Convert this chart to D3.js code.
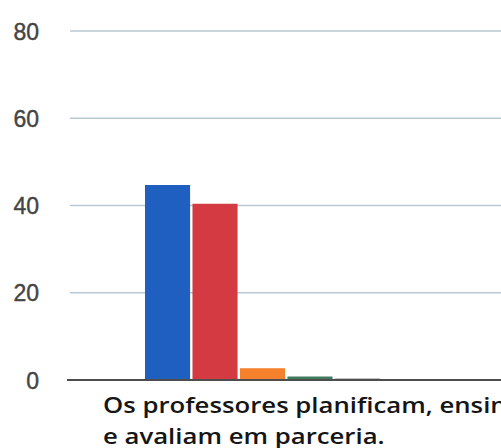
<!DOCTYPE html>
<html>
<head>
<meta charset="utf-8">
<script src="https://cdn.jsdelivr.net/npm/d3@7"></script>
<style>
  html, body { margin: 0; padding: 0; background: #fff; overflow: hidden; }
  svg { display: block; }
</style>
</head>
<body>
<svg id="chart" width="501" height="448"></svg>
<script>
// Response shares (%) for one statement, one bar per answer option
const seriesNames = ["Sempre", "Frequentemente", "Às vezes", "Raramente", "Nunca"];
const seriesValues = [44.7, 40.4, 2.7, 0.8, 0.3];
const seriesColors = ["#1f5fc0", "#d43a42", "#f5812d", "#3e7a5c", "#3a3a3a"];
const categoryLines = ["Os professores planificam, ensinam", "e avaliam em parceria."];
const yTicks = [0, 20, 40, 60, 80];

const svg = d3.select("#chart");

const y = d3.scaleLinear().domain([0, 80]).range([380, 31]);
const x = d3.scaleBand()
  .domain(seriesNames)
  .range([145, 380])
  .paddingInner(0.05);

// horizontal gridlines
svg.append("g")
  .selectAll("line")
  .data(yTicks.filter(d => d > 0))
  .join("line")
  .attr("x1", 70).attr("x2", 501)
  .attr("y1", d => y(d)).attr("y2", d => y(d))
  .attr("stroke", "#b9c9d2")
  .attr("stroke-width", 1.5);

// y-axis labels
const yAxis = d3.axisLeft(y).tickValues(yTicks).tickSize(0).tickPadding(0);
const gy = svg.append("g").attr("transform", "translate(39,0)").call(yAxis);
gy.select(".domain").remove();
gy.selectAll("text")
  .attr("fill", "#444")
  .attr("dy", "0.35em")
  .style("font-family", "'Liberation Sans', Arial, sans-serif")
  .style("font-size", "23px")
  .style("font-weight", "400")
  .style("stroke", "#444")
  .style("stroke-width", "0.4px");

// bars
svg.append("g")
  .selectAll("rect")
  .data(seriesValues)
  .join("rect")
  .attr("x", (d, i) => x(seriesNames[i]))
  .attr("width", x.bandwidth())
  .attr("y", d => y(d))
  .attr("height", d => y(0) - y(d))
  .attr("fill", (d, i) => seriesColors[i]);

// baseline
svg.append("line")
  .attr("x1", 67).attr("x2", 501)
  .attr("y1", y(0)).attr("y2", y(0))
  .attr("stroke", "#4d4d4d")
  .attr("stroke-width", 2);

// category label (wide semibold face, slightly stretched horizontally)
svg.append("text")
  .attr("transform", "translate(103,413) scale(1.17,1)")
  .style("font-family", "'Open Sans', sans-serif")
  .style("font-size", "22px")
  .style("font-weight", "600")
  .attr("fill", "#151515")
  .selectAll("tspan")
  .data(categoryLines)
  .join("tspan")
  .attr("x", 0)
  .attr("dy", (d, i) => i === 0 ? 0 : 31)
  .text(d => d);
</script>
</body>
</html>
